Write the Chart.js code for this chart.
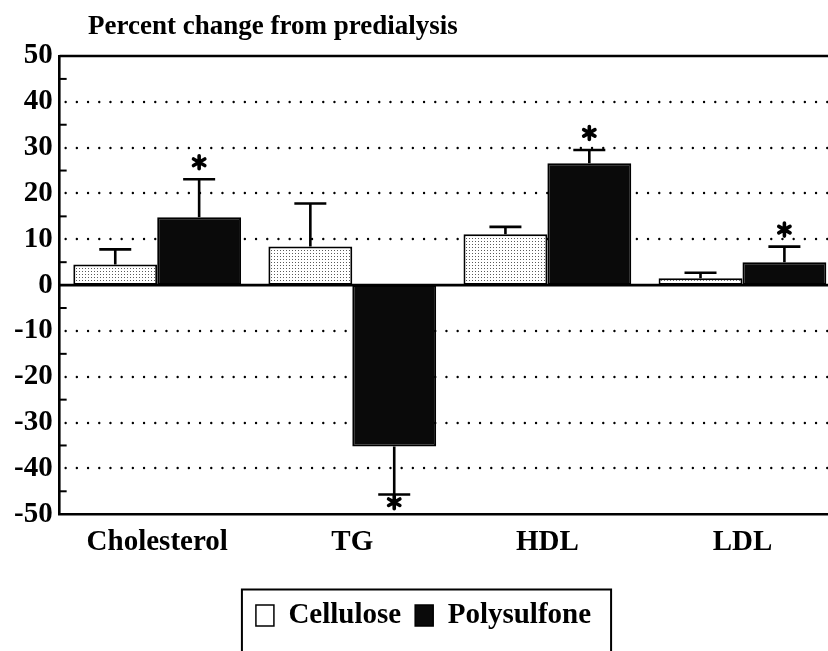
<!DOCTYPE html>
<html>
<head>
<meta charset="utf-8">
<title>Percent change from predialysis</title>
<script src="https://cdn.jsdelivr.net/npm/chart.js@4.4.1/dist/chart.umd.min.js"></script>
<style>
  html, body { margin: 0; padding: 0; overflow: hidden; background: #fff; }
  #wrap { width: 850px; height: 651px; }
</style>
</head>
<body>
<div id="wrap"><canvas id="lipidChart" width="850" height="651"></canvas></div>
<script>
const chartTitle = 'Percent change from predialysis';
const categories = ['Cholesterol', 'TG', 'HDL', 'LDL'];
const seriesNames = ['Cellulose', 'Polysulfone'];

// mean % change and one-sided error (drawn away from zero)
const celluloseValues = [4.5, 8.4, 11.1, 1.5];
const celluloseErrors = [3.3, 9.4, 1.6, 1.2];
const polysulfoneValues = [14.8, -35.2, 26.6, 5.0];
const polysulfoneErrors = [8.3, 10.5, 2.9, 3.4];
// * marks (significant vs predialysis)
const celluloseSignificant = [false, false, false, false];
const polysulfoneSignificant = [true, true, true, true];

const serifBold = (size) => ({ family: '"Liberation Serif", "Times New Roman", serif', size: size, weight: 'bold' });

// light stipple fill for the cellulose bars
function stipple() {
  const c = document.createElement('canvas');
  c.width = 3; c.height = 3;
  const g = c.getContext('2d');
  g.fillStyle = '#ffffff';
  g.fillRect(0, 0, 3, 3);
  g.fillStyle = '#5a5a5a';
  g.fillRect(1, 1, 1, 1);
  return g.createPattern(c, 'repeat');
}

// six-pointed star like the printed asterisk
function drawStar(ctx, x, y) {
  const r = 6.5;
  ctx.save();
  ctx.lineWidth = 3.6;
  ctx.lineCap = 'round';
  ctx.beginPath();
  [90, 30, 150].forEach(deg => {
    const t = deg * Math.PI / 180;
    ctx.moveTo(x - r * Math.cos(t), y - r * Math.sin(t));
    ctx.lineTo(x + r * Math.cos(t), y + r * Math.sin(t));
  });
  ctx.stroke();
  ctx.restore();
}

const errorSets = [celluloseErrors, polysulfoneErrors];
const starSets = [celluloseSignificant, polysulfoneSignificant];

const decor = {
  id: 'decor',
  beforeDatasetsDraw(chart) {
    const { ctx, chartArea: a, scales: { y } } = chart;
    ctx.save();
    ctx.strokeStyle = '#000';
    ctx.lineWidth = 2.4;
    ctx.lineCap = 'round';
    ctx.setLineDash([0, 11.2]);
    for (let v = -40; v <= 40; v += 10) {
      if (v === 0) continue;
      const py = Math.round(y.getPixelForValue(v));
      ctx.beginPath();
      ctx.moveTo(a.left + 6, py);
      ctx.lineTo(a.right, py);
      ctx.stroke();
    }
    ctx.restore();
  },
  afterDatasetsDraw(chart) {
    const { ctx, chartArea: a, scales: { y } } = chart;
    ctx.save();
    ctx.strokeStyle = '#000';
    ctx.fillStyle = '#000';

    // zero line and top frame
    ctx.lineWidth = 2.6;
    [0, 50].forEach(v => {
      const py = y.getPixelForValue(v);
      ctx.beginPath();
      ctx.moveTo(a.left, py);
      ctx.lineTo(a.right, py);
      ctx.stroke();
    });

    // minor ticks inside the axis
    ctx.lineWidth = 2;
    for (let v = -45; v <= 45; v += 10) {
      const py = y.getPixelForValue(v);
      ctx.beginPath();
      ctx.moveTo(a.left, py);
      ctx.lineTo(a.left + 7, py);
      ctx.stroke();
    }

    // error bars and asterisks
    chart.data.datasets.forEach((ds, i) => {
      const meta = chart.getDatasetMeta(i);
      meta.data.forEach((bar, j) => {
        const v = ds.data[j];
        const dir = v < 0 ? -1 : 1;
        const y0 = y.getPixelForValue(v);
        const y1 = y.getPixelForValue(v + dir * errorSets[i][j]);
        ctx.lineWidth = 2.6;
        ctx.beginPath();
        ctx.moveTo(bar.x, y0);
        ctx.lineTo(bar.x, y1);
        ctx.moveTo(bar.x - 16, y1);
        ctx.lineTo(bar.x + 16, y1);
        ctx.stroke();
        if (starSets[i][j]) {
          let cy = y1 - dir * 17;
          if (dir < 0) cy = Math.min(cy, a.bottom - 12);
          drawStar(ctx, bar.x, cy);
        }
      });
    });
    ctx.restore();
  },
  afterDraw(chart) {
    const { ctx } = chart;
    ctx.save();
    // title
    ctx.fillStyle = '#000';
    ctx.font = 'bold 27px "Liberation Serif", serif';
    ctx.textAlign = 'left';
    ctx.textBaseline = 'alphabetic';
    ctx.fillText(chartTitle, 88, 34);
    // frame around legend
    const hb = chart.legend.legendHitBoxes;
    if (hb && hb.length) {
      const first = hb[0], last = hb[hb.length - 1];
      const left = first.left - 14;
      const right = last.left + last.width + 20;
      const top = first.top + first.height / 2 - 26;
      ctx.strokeStyle = '#000';
      ctx.lineWidth = 2;
      ctx.strokeRect(left, top, right - left, chart.height + 20 - top);
    }
    ctx.restore();
  }
};

const ctx = document.getElementById('lipidChart').getContext('2d');
new Chart(ctx, {
  type: 'bar',
  data: {
    labels: categories,
    datasets: [
      {
        label: seriesNames[0],
        data: celluloseValues,
        backgroundColor: stipple(),
        borderColor: '#000',
        borderWidth: 2,
        borderSkipped: false
      },
      {
        label: seriesNames[1],
        data: polysulfoneValues,
        backgroundColor: '#0a0a0a',
        borderColor: '#000',
        borderWidth: 2,
        borderSkipped: false
      }
    ]
  },
  options: {
    responsive: false,
    animation: false,
    devicePixelRatio: 1,
    layout: { padding: { top: 56, left: 7, right: 10, bottom: 11 } },
    datasets: { bar: { barPercentage: 1, categoryPercentage: 0.86 } },
    scales: {
      x: {
        grid: { display: false, drawTicks: false },
        border: { display: true, color: '#000', width: 2.6 },
        ticks: { color: '#000', font: serifBold(29), padding: 11 },
        title: { display: true, text: ' ', font: { size: 10 }, padding: { top: 4, bottom: 0 } }
      },
      y: {
        min: -50,
        max: 50,
        grid: { display: false, drawTicks: false },
        border: { display: true, color: '#000', width: 2.6 },
        ticks: { stepSize: 10, color: '#000', font: serifBold(29), padding: 7 }
      }
    },
    plugins: {
      tooltip: { enabled: false },
      legend: {
        position: 'bottom',
        labels: {
          color: '#000',
          font: serifBold(29),
          boxWidth: 18,
          boxHeight: 21,
          padding: 14,
          generateLabels(chart) {
            const items = Chart.defaults.plugins.legend.labels.generateLabels(chart);
            items[0].fillStyle = '#ffffff';
            items.forEach(it => { it.strokeStyle = '#000'; it.lineWidth = 1.5; });
            return items;
          }
        }
      }
    }
  },
  plugins: [decor]
});
</script>
</body>
</html>
